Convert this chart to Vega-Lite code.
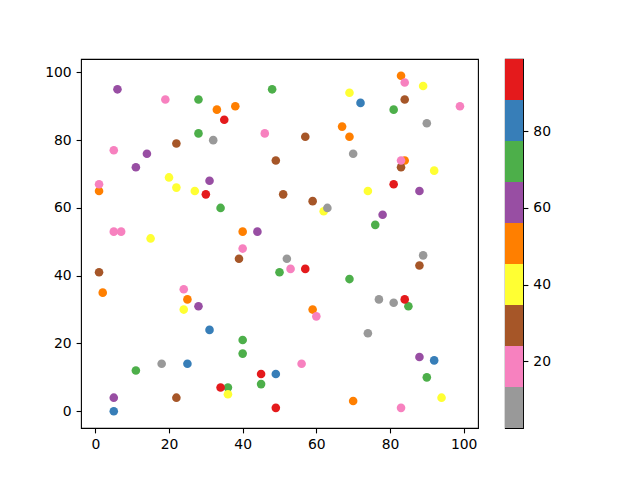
{
  "$schema": "https://vega.github.io/schema/vega-lite/v6.json",
  "background": "white",
  "padding": {"left": 44, "top": 58, "right": 5, "bottom": 5},
  "spacing": 25,
  "config": {
    "view": {"stroke": "black", "strokeWidth": 1.1},
    "axis": {
      "grid": false, "domain": false, "tickColor": "black", "tickWidth": 1.1, "tickSize": 4.9,
      "labelPadding": 4.9, "labelFont": "DejaVu Sans", "labelFontSize": 13.9, "labelColor": "black",
      "title": null
    }
  },
  "hconcat": [
    {
      "width": 397, "height": 369,
      "data": {"values": [
        {"x":28,"y":92,"c":72},{"x":48,"y":95,"c":72},{"x":28,"y":82,"c":72},{"x":34,"y":60,"c":72},{"x":81,"y":89,"c":72},{"x":76,"y":55,"c":72},{"x":50,"y":41,"c":72},{"x":40,"y":21,"c":72},{"x":40,"y":17,"c":72},{"x":11,"y":12,"c":72},{"x":45,"y":8,"c":72},{"x":36,"y":7,"c":72},{"x":69,"y":39,"c":72},{"x":85,"y":31,"c":72},{"x":90,"y":10,"c":72},
        {"x":35,"y":86,"c":93},{"x":30,"y":64,"c":93},{"x":81,"y":67,"c":93},{"x":57,"y":42,"c":93},{"x":45,"y":11,"c":93},{"x":34,"y":7,"c":93},{"x":49,"y":1,"c":93},{"x":84,"y":33,"c":93},
        {"x":72,"y":91,"c":83},{"x":31,"y":24,"c":83},{"x":25,"y":14,"c":83},{"x":49,"y":11,"c":83},{"x":5,"y":0,"c":83},{"x":92,"y":15,"c":83},
        {"x":6,"y":95,"c":61},{"x":14,"y":76,"c":61},{"x":11,"y":72,"c":61},{"x":31,"y":68,"c":61},{"x":44,"y":53,"c":61},{"x":88,"y":65,"c":61},{"x":78,"y":58,"c":61},{"x":28,"y":31,"c":61},{"x":5,"y":4,"c":61},{"x":88,"y":16,"c":61},
        {"x":33,"y":89,"c":51},{"x":38,"y":90,"c":51},{"x":1,"y":65,"c":51},{"x":40,"y":53,"c":51},{"x":83,"y":99,"c":51},{"x":67,"y":84,"c":51},{"x":69,"y":81,"c":51},{"x":84,"y":74,"c":51},{"x":2,"y":35,"c":51},{"x":25,"y":33,"c":51},{"x":59,"y":30,"c":51},{"x":70,"y":3,"c":51},
        {"x":20,"y":69,"c":40},{"x":22,"y":66,"c":40},{"x":27,"y":65,"c":40},{"x":15,"y":51,"c":40},{"x":89,"y":96,"c":40},{"x":69,"y":94,"c":40},{"x":92,"y":71,"c":40},{"x":74,"y":65,"c":40},{"x":62,"y":59,"c":40},{"x":24,"y":30,"c":40},{"x":36,"y":5,"c":40},{"x":94,"y":4,"c":40},
        {"x":22,"y":79,"c":29},{"x":49,"y":74,"c":29},{"x":51,"y":64,"c":29},{"x":57,"y":81,"c":29},{"x":84,"y":92,"c":29},{"x":83,"y":72,"c":29},{"x":59,"y":62,"c":29},{"x":1,"y":41,"c":29},{"x":39,"y":45,"c":29},{"x":88,"y":43,"c":29},{"x":22,"y":4,"c":29},
        {"x":19,"y":92,"c":19},{"x":46,"y":82,"c":19},{"x":5,"y":77,"c":19},{"x":1,"y":67,"c":19},{"x":5,"y":53,"c":19},{"x":7,"y":53,"c":19},{"x":40,"y":48,"c":19},{"x":84,"y":97,"c":19},{"x":99,"y":90,"c":19},{"x":83,"y":74,"c":19},{"x":24,"y":36,"c":19},{"x":53,"y":42,"c":19},{"x":60,"y":28,"c":19},{"x":56,"y":14,"c":19},{"x":83,"y":1,"c":19},
        {"x":32,"y":80,"c":8},{"x":90,"y":85,"c":8},{"x":70,"y":76,"c":8},{"x":63,"y":60,"c":8},{"x":52,"y":45,"c":8},{"x":89,"y":46,"c":8},{"x":77,"y":33,"c":8},{"x":81,"y":32,"c":8},{"x":74,"y":23,"c":8},{"x":18,"y":14,"c":8}
      ]},
      "mark": {"type": "point", "filled": true, "shape": "circle", "size": 74, "opacity": 1},
      "encoding": {
        "x": {"field": "x", "type": "quantitative", "scale": {"domain": [-3.9, 103.9], "nice": false, "zero": false},
              "axis": {"values": [0, 20, 40, 60, 80, 100]}},
        "y": {"field": "y", "type": "quantitative", "scale": {"domain": [-4.95, 103.95], "nice": false, "zero": false},
              "axis": {"values": [0, 20, 40, 60, 80, 100]}},
        "color": {"field": "c", "type": "quantitative",
                  "scale": {"type": "quantize", "domain": [2.6, 98.8], "nice": false, "zero": false,
                            "range": ["#999999", "#f781bf", "#a65628", "#ffff33", "#ff7f00", "#984ea3", "#4daf4a", "#377eb8", "#e41a1c"]},
                  "legend": null}
      }
    },
    {
      "width": 18, "height": 369,
      "data": {"values": [
        {"lo": 2.6, "hi": 13.29, "c": 8},
        {"lo": 13.29, "hi": 23.98, "c": 19},
        {"lo": 23.98, "hi": 34.67, "c": 29},
        {"lo": 34.67, "hi": 45.36, "c": 40},
        {"lo": 45.36, "hi": 56.04, "c": 51},
        {"lo": 56.04, "hi": 66.73, "c": 61},
        {"lo": 66.73, "hi": 77.42, "c": 72},
        {"lo": 77.42, "hi": 88.11, "c": 83},
        {"lo": 88.11, "hi": 98.8, "c": 93}
      ]},
      "mark": {"type": "rect"},
      "encoding": {
        "y": {"field": "lo", "type": "quantitative", "scale": {"domain": [2.6, 98.8], "nice": false, "zero": false},
              "axis": {"orient": "right", "values": [20, 40, 60, 80]}},
        "y2": {"field": "hi"},
        "color": {"field": "c", "type": "quantitative",
                  "scale": {"type": "quantize", "domain": [2.6, 98.8], "nice": false, "zero": false,
                            "range": ["#999999", "#f781bf", "#a65628", "#ffff33", "#ff7f00", "#984ea3", "#4daf4a", "#377eb8", "#e41a1c"]},
                  "legend": null}
      }
    }
  ],
  "resolve": {"scale": {"y": "independent", "x": "independent"}}
}
